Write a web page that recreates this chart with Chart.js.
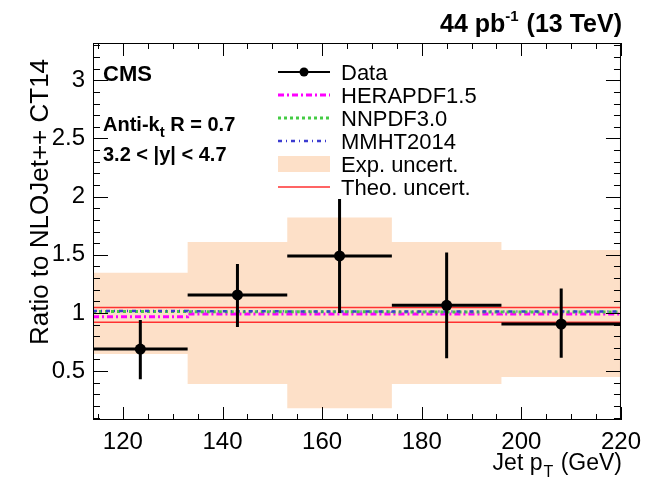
<!DOCTYPE html>
<html><head><meta charset="utf-8">
<script src="https://cdn.jsdelivr.net/npm/chart.js@4.4.1/dist/chart.umd.min.js"></script>
<style>html,body{margin:0;padding:0;background:#fff}#wrap{width:649px;height:480px;position:relative}canvas{display:block}</style>
</head><body><div id="wrap"><canvas id="c" width="649" height="480" style="width:649px;height:480px"></canvas></div>
<script>
// ---- data ----
const binEdges = [114, 133, 153, 174, 196, 220];
const binCenters = [123.5, 143, 163.5, 185, 208];
const dataValues = [0.69, 1.155, 1.49, 1.066, 0.905];
const dataErrHigh = [0.94, 1.42, 1.98, 1.52, 1.21];
const dataErrLow = [0.43, 0.88, 1.0, 0.61, 0.616];
const expUncHigh = [1.346, 1.61, 1.82, 1.61, 1.54];
const expUncLow = [0.648, 0.39, 0.18, 0.39, 0.45];
const theoUncHigh = [1.046, 1.046, 1.046, 1.046, 1.046];
const theoUncLow = [0.92, 0.92, 0.92, 0.92, 0.92];
const heraValues = [0.968, 0.99, 0.99, 0.99, 0.992];
const nnpdfValues = [1.012, 1.01, 1.01, 1.008, 1.008];
const mmhtValues = [1.017, 1.015, 1.013, 1.012, 1.012];
const xTickValues = [120, 140, 160, 180, 200, 220];
const yTickValues = [0.5, 1, 1.5, 2, 2.5, 3];
const legendLabels = ['Data', 'HERAPDF1.5', 'NNPDF3.0', 'MMHT2014', 'Exp. uncert.', 'Theo. uncert.'];

const FONT = '"Liberation Sans", Arial, Helvetica, sans-serif';
const BAND = 'rgb(253,224,200)';
const MAG = '#ff00ff', GRN = '#44cc44', BLU = '#3b3bd0', RED = '#ff3030';

function stepData(vals) {
  return binEdges.map((x, i) => ({ x: x, y: vals[Math.min(i, vals.length - 1)] }));
}
function errorBarData() {
  const pts = [];
  for (let i = 0; i < dataValues.length; i++) {
    pts.push({ x: binEdges[i], y: dataValues[i] }, { x: binEdges[i + 1], y: dataValues[i] }, { x: binEdges[i + 1], y: null });
    pts.push({ x: binCenters[i], y: dataErrLow[i] }, { x: binCenters[i], y: dataErrHigh[i] }, { x: binCenters[i], y: null });
  }
  return pts;
}

const stepLine = (label, vals, color, width, dash, order) => ({
  label, data: stepData(vals), stepped: 'before', borderColor: color, borderWidth: width,
  borderDash: dash, pointRadius: 0, fill: false, order, spanGaps: false
});

const decor = {
  id: 'decor',
  afterDraw(chart) {
    const ctx = chart.ctx, ca = chart.chartArea, xs = chart.scales.x, ys = chart.scales.y;
    ctx.save();
    ctx.strokeStyle = '#000'; ctx.lineWidth = 1; ctx.setLineDash([]);
    ctx.strokeRect(ca.left + 0.5, ca.top + 0.5, ca.right - ca.left - 1, ca.bottom - ca.top - 1);
    ctx.beginPath();
    for (let k = 1; k <= 33; k++) {
      const v = k / 10;
      if (v < ys.min || v > ys.max) continue;
      const py = Math.round(ys.getPixelForValue(v)) + 0.5;
      const len = (k % 5 === 0) ? 15 : 7;
      ctx.moveTo(ca.left, py); ctx.lineTo(ca.left + len, py);
      ctx.moveTo(ca.right, py); ctx.lineTo(ca.right - len, py);
    }
    for (let v = 115; v <= 220; v += 5) {
      const px = Math.round(xs.getPixelForValue(v)) + 0.5;
      const len = (v % 20 === 0) ? 13 : 6;
      ctx.moveTo(px, ca.bottom); ctx.lineTo(px, ca.bottom - len);
      ctx.moveTo(px, ca.top); ctx.lineTo(px, ca.top + len);
    }
    ctx.stroke();

    ctx.fillStyle = '#000';
    ctx.textBaseline = 'alphabetic';
    const big = 'bold 25px ' + FONT, sup = 'bold 15px ' + FONT;
    ctx.font = big; const w1 = ctx.measureText('44 pb').width;
    ctx.font = sup; const w2 = ctx.measureText('-1').width + 1;
    ctx.font = big; const w3 = ctx.measureText(' (13 TeV)').width;
    let x0 = ca.right + 1 - (w1 + w2 + w3);
    ctx.textAlign = 'left';
    ctx.font = big; ctx.fillText('44 pb', x0, 32);
    ctx.font = sup; ctx.fillText('-1', x0 + w1, 21);
    ctx.font = big; ctx.fillText(' (13 TeV)', x0 + w1 + w2, 32);

    ctx.font = 'bold 22px ' + FONT; ctx.fillText('CMS', 103, 81);
    ctx.font = 'bold 20px ' + FONT;
    ctx.fillText('Anti-k', 103, 131);
    let wa = ctx.measureText('Anti-k').width;
    ctx.font = 'bold 15px ' + FONT; ctx.fillText('t', 103 + wa, 137);
    let wt = ctx.measureText('t').width;
    ctx.font = 'bold 20px ' + FONT; ctx.fillText(' R = 0.7', 103 + wa + wt, 131);
    ctx.fillText('3.2 < |y| < 4.7', 103, 161);

    const xt = '23px ' + FONT, xsub = '16px ' + FONT;
    ctx.font = xt; const a1 = ctx.measureText('Jet p').width;
    ctx.font = xsub; const a2 = ctx.measureText('T').width + 2;
    ctx.font = xt; const a3 = ctx.measureText(' (GeV)').width;
    x0 = ca.right + 1 - (a1 + a2 + a3);
    ctx.font = xt; ctx.fillText('Jet p', x0, 470);
    ctx.font = xsub; ctx.fillText('T', x0 + a1 + 1, 477);
    ctx.font = xt; ctx.fillText(' (GeV)', x0 + a1 + a2, 470);

    ctx.save();
    ctx.translate(48, 202); ctx.rotate(-Math.PI / 2);
    ctx.font = '26px ' + FONT; ctx.textAlign = 'center';
    ctx.fillText('Ratio to NLOJet++ CT14', 0, 0);
    ctx.restore();

    const rows = [72, 95, 118, 141, 164, 187];
    const lx0 = 278, lx1 = 330, tx = 341;
    ctx.lineCap = 'butt';
    rows.forEach((ry, i) => {
      ctx.save();
      if (i === 0) {
        ctx.strokeStyle = '#000'; ctx.lineWidth = 2; ctx.beginPath(); ctx.moveTo(lx0, ry); ctx.lineTo(lx1, ry); ctx.stroke();
        ctx.fillStyle = '#000'; ctx.beginPath(); ctx.arc(304, ry, 4.5, 0, Math.PI * 2); ctx.fill();
      } else if (i === 1) {
        ctx.strokeStyle = MAG; ctx.lineWidth = 3; ctx.setLineDash([6, 3, 2, 3]);
        ctx.beginPath(); ctx.moveTo(lx0, ry); ctx.lineTo(lx1, ry); ctx.stroke();
      } else if (i === 2) {
        ctx.strokeStyle = GRN; ctx.lineWidth = 3; ctx.setLineDash([3, 3]);
        ctx.beginPath(); ctx.moveTo(lx0, ry); ctx.lineTo(lx1, ry); ctx.stroke();
      } else if (i === 3) {
        ctx.strokeStyle = BLU; ctx.lineWidth = 2.5; ctx.setLineDash([4, 4, 1, 4]);
        ctx.beginPath(); ctx.moveTo(lx0, ry); ctx.lineTo(lx1, ry); ctx.stroke();
      } else if (i === 4) {
        ctx.fillStyle = BAND; ctx.fillRect(lx0, ry - 8, lx1 - lx0, 16);
      } else {
        ctx.strokeStyle = RED; ctx.lineWidth = 1.5; ctx.beginPath(); ctx.moveTo(lx0, ry); ctx.lineTo(lx1, ry); ctx.stroke();
      }
      ctx.restore();
      ctx.fillStyle = '#000'; ctx.font = '22px ' + FONT; ctx.textAlign = 'left'; ctx.textBaseline = 'alphabetic';
      ctx.fillText(legendLabels[i], tx, ry + 8);
    });
    ctx.restore();
  }
};

new Chart(document.getElementById('c'), {
  type: 'line',
  data: {
    datasets: [
      { label: 'Exp. uncert.', data: stepData(expUncHigh), stepped: 'before', borderWidth: 0, pointRadius: 0,
        backgroundColor: BAND, fill: '+1', order: 10 },
      { label: 'Exp. uncert. low', data: stepData(expUncLow), stepped: 'before', borderWidth: 0, pointRadius: 0,
        fill: false, order: 10 },
      stepLine('Theo. uncert.', theoUncHigh, RED, 1.5, [], 8),
      stepLine('Theo. uncert. low', theoUncLow, RED, 1.5, [], 8),
      stepLine('HERAPDF1.5', heraValues, MAG, 3, [6, 3, 2, 3], 5),
      stepLine('NNPDF3.0', nnpdfValues, GRN, 3, [3, 3], 4),
      stepLine('MMHT2014', mmhtValues, BLU, 2.5, [4, 4, 1, 4], 3),
      { label: 'Data errors', data: errorBarData(), borderColor: '#000', borderWidth: 3, pointRadius: 0,
        fill: false, spanGaps: false, order: 2 },
      { label: 'Data', data: binCenters.map((x, i) => ({ x, y: dataValues[i] })), showLine: false,
        pointRadius: 5.5, pointBackgroundColor: '#000', pointBorderWidth: 0, order: 1 }
    ]
  },
  options: {
    responsive: false, animation: false, devicePixelRatio: 1,
    layout: { padding: { top: 43, right: 21, left: 0, bottom: 0 } },
    plugins: { legend: { display: false }, tooltip: { enabled: false } },
    scales: {
      x: {
        type: 'linear', min: 114, max: 220,
        grid: { display: false, drawTicks: false }, border: { display: false },
        afterBuildTicks: s => { s.ticks = xTickValues.map(v => ({ value: v })); },
        afterFit: s => { s.height = 60; },
        ticks: { font: { family: FONT, size: 24 }, color: '#000', padding: 8, maxRotation: 0, autoSkip: false,
                 callback: v => String(v) }
      },
      y: {
        type: 'linear', min: 0.08, max: 3.32,
        grid: { display: false, drawTicks: false }, border: { display: false },
        afterBuildTicks: s => { s.ticks = yTickValues.map(v => ({ value: v })); },
        afterFit: s => { s.width = 93; },
        ticks: { font: { family: FONT, size: 24 }, color: '#000', padding: 8, autoSkip: false,
                 callback: v => String(v) }
      }
    }
  },
  plugins: [decor]
});
</script></body></html>
